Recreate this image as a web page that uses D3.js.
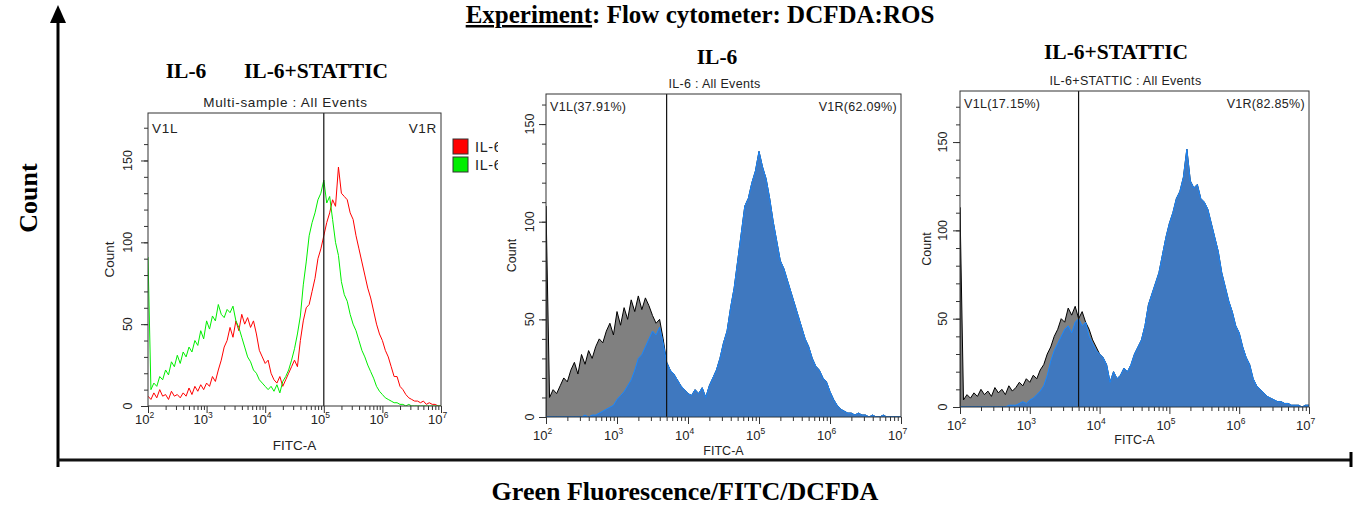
<!DOCTYPE html>
<meta charset="utf-8">

<!-- Load d3.js -->
<script src="https://d3js.org/d3.v7.min.js"></script>

<style>
  body { margin: 0; background: #fff; }
  .small { font-family: "Liberation Sans", Arial, sans-serif; fill: #222; }
  .big { font-family: "Liberation Serif", "Times New Roman", serif; font-weight: bold; fill: #000; }
</style>

<!-- Create a div where the graph will take place -->
<div id="my_dataviz"></div>

<script>

// ---- data: counts per bin, 20 bins per decade, from 10^2 to 10^7 ----
var firstDecade = 2, binsPerDecade = 20;

// multi-sample overlay (left panel)
var overlayIL6 = [6,4,8,5,10,6,7,4,9,6, 7,5,8,6,11,7,12,9,13,10,
  14,12,18,15,22,28,36,40,48,42, 52,46,56,50,54,48,52,44,34,30,
  26,28,20,16,14,18,12,16,20,24, 28,24,40,52,60,62,70,78,90,96,
  104,112,118,126,122,146,130,128,126,118, 114,104,96,88,80,72,66,58,50,44,
  40,34,30,24,18,18,12,10,7,5, 4,3,3,2,3,1,2,1,1,0];
var overlayStattic = [91,10,14,12,18,16,22,19,27,24, 31,26,33,30,36,33,40,37,46,41,
  52,47,55,52,62,56,54,59,57,61, 52,48,42,36,30,27,22,20,16,14,
  12,10,12,9,13,8,15,18,22,28, 35,44,55,74,88,104,112,118,126,130,
  138,124,128,114,100,92,76,68,64,56, 50,46,40,34,30,25,21,17,12,9,
  7,5,4,3,2,2,1,1,0,1, 0,0,0,0,0,0,0,0,0,0];

// IL-6 panel: grey = all events, blue = overlaid population
var il6Grey = [108,10,14,12,16,20,18,24,28,22, 32,27,34,30,36,40,38,44,48,42,
  54,47,56,50,60,54,62,55,61,57, 52,48,50,40,28,24,22,19,16,14,
  12,11,14,12,15,10,16,20,24,30, 38,44,56,66,80,94,108,112,120,126,
  136,128,122,112,100,90,80,76,70,64, 58,52,46,40,36,30,26,24,20,18,
  13,9,6,4,3,2,2,1,2,1, 1,0,1,0,0,1,0,0,0,0];
var il6Blue = [0,0,0,0,0,0,0,0,0,0, 0,1,0,1,1,2,3,4,5,6,
  9,11,13,16,19,24,30,32,36,40, 44,42,46,38,28,24,22,19,16,14,
  12,11,14,12,15,10,16,20,24,30, 38,44,56,66,80,94,108,112,120,126,
  136,128,122,112,100,90,80,76,70,64, 58,52,46,40,36,30,26,24,20,18,
  13,9,6,4,3,2,2,1,2,1, 1,0,1,0,0,1,0,0,0,0];

// IL-6+STATTIC panel
var statticGrey = [113,4,7,5,8,6,10,7,9,6, 11,8,10,7,12,9,11,14,12,16,
  14,18,16,21,24,30,34,40,44,50, 48,56,52,57,50,54,48,44,38,34,
  30,28,24,14,20,16,18,22,20,24, 30,34,38,46,58,64,70,76,86,96,
  104,110,118,122,130,146,128,124,126,118, 116,112,104,96,88,76,68,60,54,46,
  42,34,28,24,16,12,10,8,6,5, 4,3,3,2,2,1,1,1,0,1];
var statticBlue = [0,0,0,0,0,0,0,0,0,0, 0,0,0,0,1,1,1,2,3,2,
  4,5,7,9,12,18,26,32,36,40, 44,46,42,48,50,46,48,40,36,32,
  30,28,24,14,20,16,18,22,20,24, 30,34,38,46,58,64,70,76,86,96,
  104,110,118,122,130,146,128,124,126,118, 116,112,104,96,88,76,68,60,54,46,
  42,34,28,24,16,12,10,8,6,5, 4,3,3,2,2,1,1,1,0,1];

// axes and gates
var decadeTicks = [2, 3, 4, 5, 6, 7];
var countTicks = [0, 50, 100, 150];
var gatePositions = [1e5, 5000, 5000];
var gateLeftPct = ["", "37.91%", "17.15%"];
var gateRightPct = ["", "62.09%", "82.85%"];
var legendNames = ["IL-6", "IL-6"];

// set the dimensions of the page
var width = 1353, height = 507;

var svg = d3.select("#my_dataviz")
  .append("svg")
    .attr("width", width)
    .attr("height", height);

// one point per bin (at its lower edge) plus the closing edge at 10^7
function binPoints(counts) {
  var pts = counts.map(function(c, i) {
    return [Math.pow(10, firstDecade + i / binsPerDecade), c];
  });
  pts.push([Math.pow(10, firstDecade + counts.length / binsPerDecade), counts[counts.length - 1]]);
  return pts;
}

// panel layouts (frame box in pixels, label offsets)
var panels = [
  { left: 148, top: 113, right: 441, bottom: 406, ymax: 179,
    sub: "Multi-sample : All Events", vl: "V1L", vr: "V1R", vy: 20,
    yLab: -20, cLab: -39, xLab: 18, fLab: 44, fs: 13.5, ls: 0.7,
    lines: [ { data: overlayIL6, color: "#ff0000" }, { data: overlayStattic, color: "#00ee00" } ] },
  { left: 546, top: 94, right: 901, bottom: 417, ymax: 165.4,
    sub: "IL-6 : All Events", vl: "V1L(" + gateLeftPct[1] + ")", vr: "V1R(" + gateRightPct[1] + ")", vy: 17,
    yLab: -16, cLab: -34, xLab: 23, fLab: 38, fs: 12.5, ls: 0.3,
    areas: [ { data: il6Grey, fill: "#808080", stroke: "#000" }, { data: il6Blue, fill: "#3f78bf", stroke: "#1a88ff" } ] },
  { left: 960, top: 91, right: 1309, bottom: 407, ymax: 178.9,
    sub: "IL-6+STATTIC : All Events", vl: "V1L(" + gateLeftPct[2] + ")", vr: "V1R(" + gateRightPct[2] + ")", vy: 17,
    yLab: -17, cLab: -33, xLab: 22.5, fLab: 36.5, fs: 12.5, ls: 0.3,
    areas: [ { data: statticGrey, fill: "#808080", stroke: "#000" }, { data: statticBlue, fill: "#3f78bf", stroke: "#1a88ff" } ] }
];

panels.forEach(function(p, k) {
  var w = p.right - p.left, h = p.bottom - p.top;
  var g = svg.append("g").attr("transform", "translate(" + p.left + "," + p.top + ")");

  var x = d3.scaleLog().domain([1e2, 1e7]).range([0, w]);
  var y = d3.scaleLinear().domain([0, p.ymax]).range([h, 0]);

  g.append("clipPath").attr("id", "clip" + k)
    .append("rect").attr("width", w).attr("height", h);
  var plot = g.append("g").attr("clip-path", "url(#clip" + k + ")");

  // filled histograms
  (p.areas || []).forEach(function(s) {
    plot.append("path")
      .datum(binPoints(s.data))
      .attr("d", d3.area()
        .x(function(d) { return x(d[0]); })
        .y0(h)
        .y1(function(d) { return y(d[1]); }))
      .attr("fill", s.fill)
      .attr("stroke", s.stroke)
      .attr("stroke-width", 1);
  });

  // line histograms
  (p.lines || []).forEach(function(s) {
    plot.append("path")
      .datum(binPoints(s.data))
      .attr("d", d3.line()
        .x(function(d) { return x(d[0]); })
        .y(function(d) { return y(d[1]); }))
      .attr("fill", "none")
      .attr("stroke", s.color)
      .attr("stroke-width", 1);
  });

  // gate line
  g.append("line")
    .attr("x1", x(gatePositions[k])).attr("x2", x(gatePositions[k]))
    .attr("y1", 0).attr("y2", h)
    .attr("stroke", "#111").attr("stroke-width", 1.2);

  // frame
  g.append("rect")
    .attr("width", w).attr("height", h)
    .attr("fill", "none").attr("stroke", "#333").attr("stroke-width", 1);

  // Y axis: minor ticks every 10, major every 50
  g.append("g")
    .call(d3.axisLeft(y).tickValues(d3.range(0, p.ymax, 10)).tickSize(4).tickFormat(""))
    .call(function(a) { a.select(".domain").remove(); a.selectAll("line").attr("stroke", "#333"); });
  g.append("g")
    .call(d3.axisLeft(y).tickValues(countTicks).tickSize(7).tickFormat(""))
    .call(function(a) { a.select(".domain").remove(); a.selectAll("line").attr("stroke", "#333"); });

  g.selectAll(".ylab")
    .data(countTicks)
    .enter()
    .append("text")
      .attr("class", "small")
      .attr("transform", function(d) { return "translate(" + p.yLab + "," + y(d) + ") rotate(-90)"; })
      .attr("text-anchor", "middle")
      .attr("dy", "0.35em")
      .style("font-size", "12.5px")
      .text(function(d) { return d; });

  // X axis: log minor ticks and decade ticks
  var minor = [];
  decadeTicks.slice(0, -1).forEach(function(e) {
    for (var m = 2; m < 10; m++) minor.push(m * Math.pow(10, e));
  });
  g.append("g")
    .attr("transform", "translate(0," + h + ")")
    .call(d3.axisBottom(x).tickValues(minor).tickSize(4).tickFormat(""))
    .call(function(a) { a.select(".domain").remove(); a.selectAll("line").attr("stroke", "#333"); });
  g.append("g")
    .attr("transform", "translate(0," + h + ")")
    .call(d3.axisBottom(x).tickValues(decadeTicks.map(function(e) { return Math.pow(10, e); })).tickSize(7).tickFormat(""))
    .call(function(a) { a.select(".domain").remove(); a.selectAll("line").attr("stroke", "#333"); });

  var xl = g.selectAll(".xlab")
    .data(decadeTicks)
    .enter()
    .append("text")
      .attr("class", "small")
      .attr("x", function(d) { return x(Math.pow(10, d)) - 13; })
      .attr("y", h + p.xLab)
      .style("font-size", "13px");
  xl.append("tspan").text("10");
  xl.append("tspan")
    .attr("dy", -6)
    .style("font-size", "8.5px")
    .text(function(d) { return d; });

  // axis titles
  g.append("text")
    .attr("class", "small")
    .attr("x", w / 2).attr("y", h + p.fLab)
    .attr("text-anchor", "middle")
    .style("font-size", p.fs + "px")
    .text("FITC-A");
  g.append("text")
    .attr("class", "small")
    .attr("transform", "translate(" + p.cLab + "," + (h / 2) + ") rotate(-90)")
    .attr("text-anchor", "middle")
    .attr("dy", "0.35em")
    .style("font-size", p.fs + "px")
    .text("Count");

  // plot title and gate labels
  g.append("text")
    .attr("class", "small")
    .attr("x", w / 2 - 9).attr("y", -6)
    .attr("text-anchor", "middle")
    .style("font-size", p.fs + "px")
    .style("letter-spacing", p.ls + "px")
    .text(p.sub);
  g.append("text")
    .attr("class", "small")
    .attr("x", 4).attr("y", p.vy)
    .style("font-size", p.fs + "px")
    .style("letter-spacing", p.ls + "px")
    .text(p.vl);
  g.append("text")
    .attr("class", "small")
    .attr("x", w - 4).attr("y", p.vy)
    .attr("text-anchor", "end")
    .style("font-size", p.fs + "px")
    .style("letter-spacing", p.ls + "px")
    .text(p.vr);
});

// legend of the overlay panel (cut at the picture edge)
svg.append("clipPath").attr("id", "legclip")
  .append("rect").attr("x", 440).attr("y", 130).attr("width", 58).attr("height", 50);
var leg = svg.append("g").attr("clip-path", "url(#legclip)");
var legColors = ["#ff0000", "#00ee00"];
legendNames.forEach(function(name, i) {
  leg.append("rect")
    .attr("x", 453).attr("y", 139 + i * 18)
    .attr("width", 15).attr("height", 15)
    .attr("fill", legColors[i]).attr("stroke", "#333");
  leg.append("text")
    .attr("class", "small")
    .attr("x", 475).attr("y", 152 + i * 18)
    .style("font-size", "14.5px")
    .style("letter-spacing", "0.6px")
    .text(name);
});

// sample headers
var headers = [
  { text: "IL-6", x: 186, y: 78 },
  { text: "IL-6+STATTIC", x: 316, y: 78 },
  { text: "IL-6", x: 717, y: 64 },
  { text: "IL-6+STATTIC", x: 1116, y: 59 }
];
svg.selectAll(".hdr")
  .data(headers)
  .enter()
  .append("text")
    .attr("class", "big")
    .attr("x", function(d) { return d.x; })
    .attr("y", function(d) { return d.y; })
    .attr("text-anchor", "middle")
    .style("font-size", "21.5px")
    .text(function(d) { return d.text; });

// main title
var title = svg.append("text")
  .attr("class", "big")
  .attr("x", 700).attr("y", 23)
  .attr("text-anchor", "middle")
  .style("font-size", "25px");
title.append("tspan").style("text-decoration", "underline").text("Experiment");
title.append("tspan").text(": Flow cytometer: DCFDA:ROS");

// outer axes with arrow
svg.append("line")
  .attr("x1", 58).attr("x2", 58).attr("y1", 20).attr("y2", 467)
  .attr("stroke", "#000").attr("stroke-width", 3);
svg.append("path")
  .attr("d", "M58,5 L50,23 L66,23 Z")
  .attr("fill", "#000");
svg.append("line")
  .attr("x1", 57).attr("x2", 1352).attr("y1", 460).attr("y2", 460)
  .attr("stroke", "#111").attr("stroke-width", 3);
svg.append("line")
  .attr("x1", 1351).attr("x2", 1351).attr("y1", 452).attr("y2", 467)
  .attr("stroke", "#000").attr("stroke-width", 3);

svg.append("text")
  .attr("class", "big")
  .attr("transform", "translate(28,198) rotate(-90)")
  .attr("text-anchor", "middle")
  .attr("dy", "0.35em")
  .style("font-size", "26px")
  .text("Count");

svg.append("text")
  .attr("class", "big")
  .attr("x", 685).attr("y", 500)
  .attr("text-anchor", "middle")
  .style("font-size", "26px")
  .text("Green Fluorescence/FITC/DCFDA");

</script>
